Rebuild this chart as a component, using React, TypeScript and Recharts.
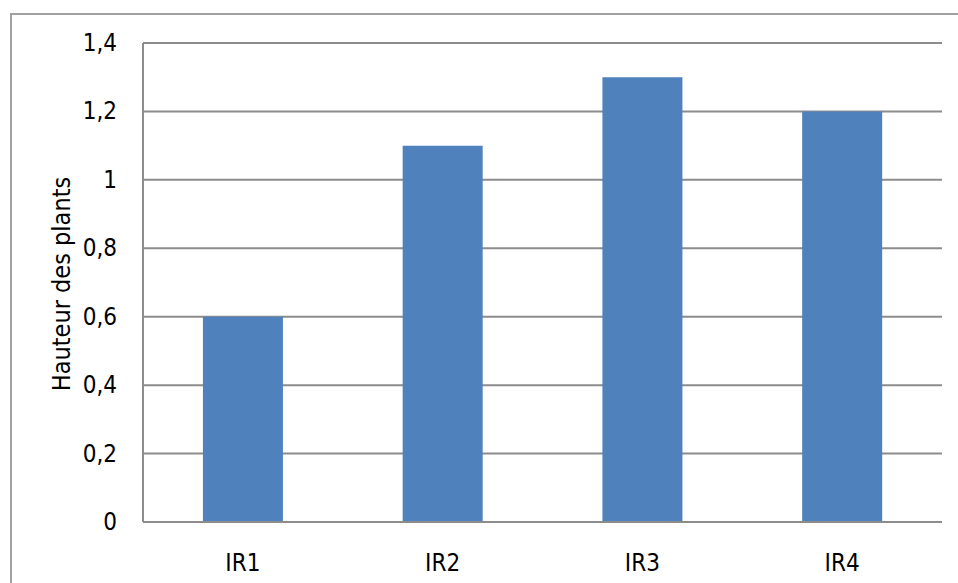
import React from "react";
import { BarChart, Bar, XAxis, YAxis, CartesianGrid, Label } from "recharts";

const categories = ["IR1", "IR2", "IR3", "IR4"];
const heights = [0.6, 1.1, 1.3, 1.2];
const yTicks = [0, 0.2, 0.4, 0.6, 0.8, 1, 1.2, 1.4];

const data = categories.map((c, i) => ({ name: c, value: heights[i] }));

const FONT = "'DejaVu Sans Condensed', 'Liberation Sans Narrow', sans-serif";
const FS = 24;

const XTick = (props: any) => {
  const { x, y, payload } = props;
  return (
    <text x={x} y={y + 33} textAnchor="middle" dominantBaseline="central" fill="#000" style={{ fontSize: FS, fontFamily: FONT }}>
      {payload.value}
    </text>
  );
};

const YTick = (props: any) => {
  const { y, payload } = props;
  return (
    <text x={117} y={y} textAnchor="end" dominantBaseline="central" fill="#000" style={{ fontSize: FS, fontFamily: FONT }}>
      {String(payload.value).replace(".", ",")}
    </text>
  );
};

export default function App() {
  return (
    <div style={{ position: "absolute", left: 0, top: 0, width: 958, height: 583, overflow: "hidden", background: "#fff" }}>
      <div
        style={{
          position: "absolute",
          left: 10,
          top: 13,
          width: 1000,
          height: 700,
          border: "2px solid #a0a0a0",
          boxSizing: "border-box",
        }}
      />
      <div style={{ position: "absolute", left: 0, top: 0 }}>
        <BarChart
          width={958}
          height={583}
          data={data}
          margin={{ top: 43, right: 16, bottom: 0, left: 0 }}
          barCategoryGap="30%"
        >
          <CartesianGrid vertical={false} stroke="#8c8c8c" strokeWidth={2} />
          <XAxis
            dataKey="name"
            height={61}
            axisLine={{ stroke: "#8c8c8c", strokeWidth: 2 }}
            tickLine={false}
            tick={<XTick />}
          />
          <YAxis
            width={143}
            domain={[0, 1.4]}
            ticks={yTicks}
            interval={0}
            axisLine={{ stroke: "#8c8c8c", strokeWidth: 2 }}
            tickLine={false}
            tick={<YTick />}
          >
            <Label
              content={() => (
                <text
                  x={61}
                  y={284}
                  transform="rotate(-90 61 284)"
                  textAnchor="middle"
                  dominantBaseline="central"
                  fill="#000"
                  style={{ fontSize: 25, fontFamily: FONT }}
                >
                  Hauteur des plants
                </text>
              )}
            />
          </YAxis>
          <Bar dataKey="value" fill="#4F81BD" isAnimationActive={false} />
        </BarChart>
      </div>
    </div>
  );
}
